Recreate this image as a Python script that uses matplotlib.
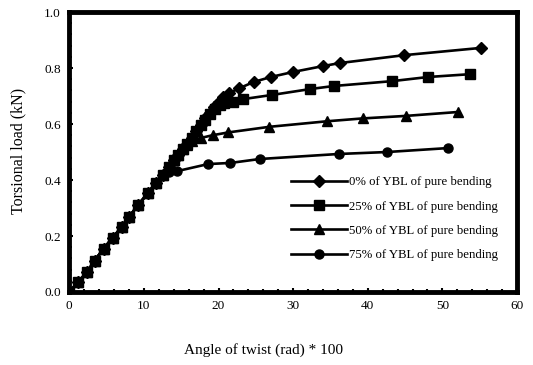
import matplotlib.pyplot as plt
from matplotlib.ticker import MultipleLocator

plt.rcParams['font.family'] = ['Liberation Serif', 'DejaVu Serif']

# shared elastic part of all four curves
base_x = [0, 1.2, 2.4, 3.4, 4.6, 5.8, 7.0, 8.0, 9.2, 10.5, 11.6, 12.6]
base_y = [0, 0.036, 0.072, 0.112, 0.155, 0.193, 0.232, 0.268, 0.31, 0.352, 0.39, 0.418]

x0 = base_x + [13.4, 14.0, 14.6, 15.2, 15.8, 16.4, 17.0, 17.6, 18.2, 18.8, 19.4, 20.0,
               20.6, 21.4, 22.8, 24.7, 27.0, 30.0, 34.0, 36.3, 44.9, 55.2]
y0 = base_y + [0.445, 0.47, 0.49, 0.51, 0.53, 0.55, 0.575, 0.595, 0.62, 0.64, 0.66, 0.68,
               0.695, 0.71, 0.728, 0.75, 0.768, 0.786, 0.807, 0.818, 0.846, 0.872]

x25 = base_x + [13.4, 14.0, 14.6, 15.2, 15.8, 16.4, 17.0, 17.6, 18.2, 18.8, 19.5, 20.2,
                20.7, 22.0, 23.3, 27.2, 32.3, 35.5, 43.2, 48.1, 53.7]
y25 = base_y + [0.445, 0.47, 0.49, 0.51, 0.53, 0.55, 0.575, 0.595, 0.615, 0.635, 0.655, 0.668,
                0.675, 0.68, 0.689, 0.704, 0.725, 0.736, 0.753, 0.768, 0.778]

x50 = base_x + [13.4, 14.0, 14.6, 15.2, 15.8, 16.5, 17.6, 19.2, 21.3, 26.8, 34.6, 39.3, 45.1, 52.1]
y50 = base_y + [0.445, 0.47, 0.49, 0.51, 0.525, 0.54, 0.55, 0.56, 0.57, 0.59, 0.61, 0.62, 0.629, 0.643]

x75 = base_x + [13.3, 14.5, 18.6, 21.6, 25.5, 36.1, 42.6, 50.7]
y75 = base_y + [0.43, 0.432, 0.457, 0.461, 0.475, 0.493, 0.50, 0.514]

labels = ['0% of YBL of pure bending', '25% of YBL of pure bending',
          '50% of YBL of pure bending', '75% of YBL of pure bending']

fig = plt.figure(figsize=(5.33, 3.65), dpi=100)
ax = fig.add_axes([0.13, 0.2, 0.84, 0.767])

ax.plot(x0, y0, color='black', lw=1.9, marker='D', ms=6, label=labels[0])
ax.plot(x25, y25, color='black', lw=1.9, marker='s', ms=6.5, label=labels[1])
ax.plot(x50, y50, color='black', lw=1.9, marker='^', ms=7, label=labels[2])
ax.plot(x75, y75, color='black', lw=1.9, marker='o', ms=6.5, label=labels[3])

ax.set_xlim(0, 60)
ax.set_ylim(0, 1.0)
ax.xaxis.set_major_locator(MultipleLocator(10))
ax.xaxis.set_minor_locator(MultipleLocator(2))
ax.yaxis.set_major_locator(MultipleLocator(0.2))
ax.yaxis.set_minor_locator(MultipleLocator(0.04))
ax.yaxis.set_major_formatter(plt.FuncFormatter(lambda v, p: f'{v:.1f}'))

for s in ax.spines.values():
    s.set_linewidth(3.5)
ax.tick_params(which='major', direction='in', length=3, width=1.5, labelsize=9.5, pad=6)
ax.tick_params(which='minor', direction='in', length=2, width=1.5)

ax.set_xlabel('Angle of twist (rad) * 100', fontsize=11, va='center')
ax.xaxis.set_label_coords(0.433, -0.207)
ax.set_ylabel('Torsional load (kN)', fontsize=11.5, va='center')
ax.yaxis.set_label_coords(-0.114, 0.504)

ax.legend(loc='upper left', bbox_to_anchor=(0.47, 0.455), frameon=False, fontsize=9.2,
          handlelength=4.4, handletextpad=0.1, labelspacing=0.97)

fig.savefig('out.png', dpi=100)
